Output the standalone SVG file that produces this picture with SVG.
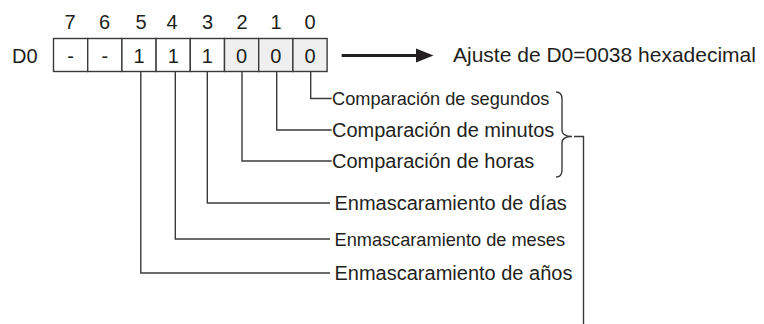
<svg xmlns="http://www.w3.org/2000/svg" width="764" height="324" viewBox="0 0 764 324">
<style>
text{font-family:"Liberation Sans",Arial,sans-serif;fill:#231f20;font-size:20px}
.c{text-anchor:middle}
.sm{font-size:18.2px}
.ln{fill:none;stroke:#3a3a3a;stroke-width:1.4}
.cell{fill:#fff;stroke:#3a3a3a;stroke-width:1.4}
.g{fill:#efefef}
</style>
<rect width="764" height="324" fill="#fff"/>
<g id="bit-numbers">
<text class="c" x="70" y="29">7</text>
<text class="c" x="104.5" y="29">6</text>
<text class="c" x="141" y="29">5</text>
<text class="c" x="172" y="29">4</text>
<text class="c" x="207.5" y="29">3</text>
<text class="c" x="242" y="29">2</text>
<text class="c" x="276" y="29">1</text>
<text class="c" x="310" y="29">0</text>
</g>
<g id="register-D0">
<text x="12" y="63">D0</text>
<rect class="cell" x="53.5" y="38.5" width="34.2" height="33"/>
<rect class="cell" x="87.7" y="38.5" width="34.2" height="33"/>
<rect class="cell" x="121.9" y="38.5" width="34.2" height="33"/>
<rect class="cell" x="156.1" y="38.5" width="34.2" height="33"/>
<rect class="cell" x="190.3" y="38.5" width="34.2" height="33"/>
<rect class="cell g" x="224.5" y="38.5" width="34.2" height="33"/>
<rect class="cell g" x="258.7" y="38.5" width="34.2" height="33"/>
<rect class="cell g" x="292.9" y="38.5" width="34.2" height="33"/>
<text class="c" x="70.6" y="63">-</text>
<text class="c" x="104.8" y="63">-</text>
<text class="c" x="139" y="63">1</text>
<text class="c" x="173.2" y="63">1</text>
<text class="c" x="207.4" y="63">1</text>
<text class="c" x="241.6" y="63">0</text>
<text class="c" x="275.8" y="63">0</text>
<text class="c" x="310" y="63">0</text>
</g>
<g id="setting">
<text x="453" y="62" style="font-size:21px">Ajuste de D0=0038 hexadecimal</text>
</g>
<g id="labels">
<text class="sm" x="332" y="104.5">Comparación de segundos</text>
<text x="332" y="137">Comparación de minutos</text>
<text x="332" y="168">Comparación de horas</text>
<text x="334.5" y="210">Enmascaramiento de días</text>
<text class="sm" x="334.5" y="245.5">Enmascaramiento de meses</text>
<text x="334.5" y="280">Enmascaramiento de años</text>
</g>
<g id="connectors">
<line x1="341.7" y1="55.5" x2="418" y2="55.5" stroke="#231f20" stroke-width="2.8"/>
<polygon points="416,48.5 433.5,55.5 416,62.5" fill="#231f20"/>
<polyline class="ln" points="310.7,71.7 310.7,98.5 331.7,98.5"/>
<polyline class="ln" points="276.7,71.7 276.7,130 331.7,130"/>
<polyline class="ln" points="242,71.7 242,161 331.7,161"/>
<polyline class="ln" points="207.3,71.7 207.3,203 330,203"/>
<polyline class="ln" points="175.3,71.7 175.3,239 330,239"/>
<polyline class="ln" points="140.8,71.7 140.8,273 330,273"/>
<path class="ln" d="M556,92 Q562,92 562,99 L562,130 Q562,136.5 572,136.5 Q562,136.5 562,143 L562,170 Q562,177 556,177"/>
<polyline class="ln" points="574,136.5 583.5,136.5 583.5,324"/>
</g>
</svg>
